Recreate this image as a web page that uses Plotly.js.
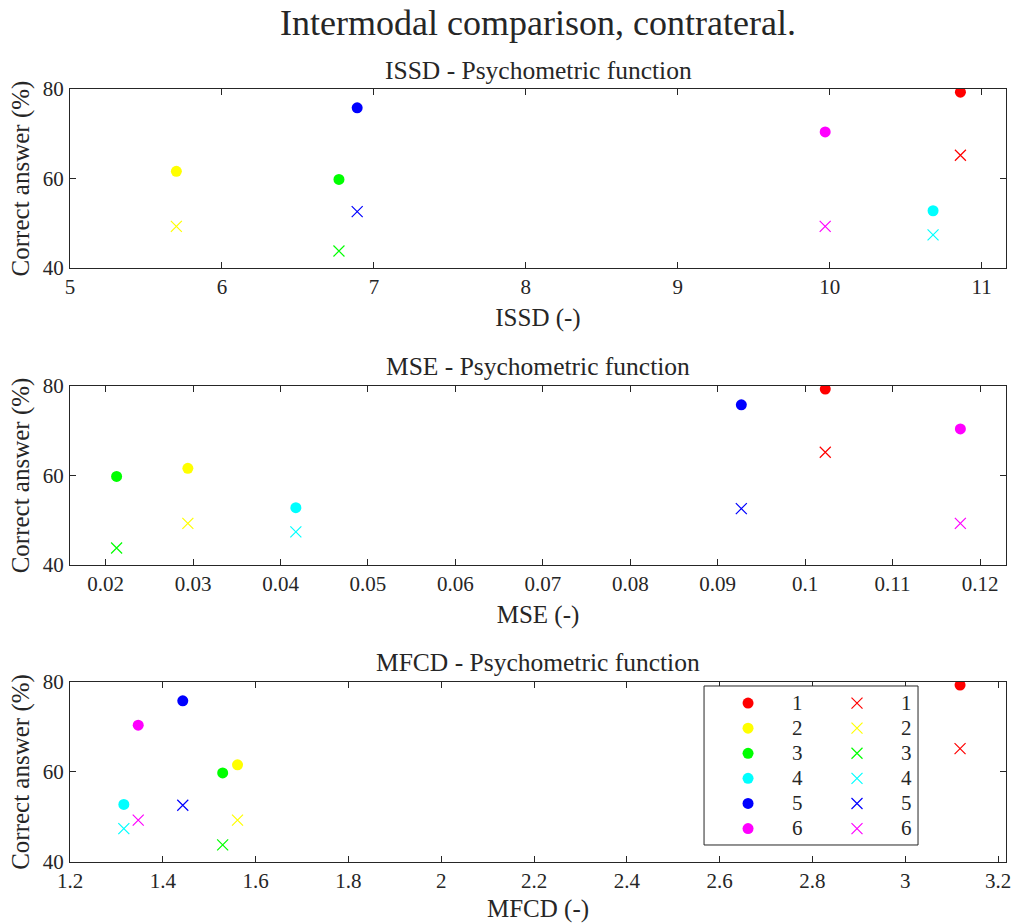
<!DOCTYPE html>
<html>
<head>
<meta charset="utf-8">
<script src="https://cdn.plot.ly/plotly-3.0.1.min.js"></script>
<style>html,body{margin:0;padding:0;background:#fff;}#chart{width:1016px;height:923px;}</style>
</head>
<body>
<div id="chart"></div>
<script>
// ---- data ----
const subjects = ['1', '2', '3', '4', '5', '6'];
const subjectColors = ['#ff0000', '#ffff00', '#00ff00', '#00ffff', '#0000ff', '#ff00ff'];
const correctDots = [79.3, 61.6, 59.8, 52.8, 75.8, 70.4];     // filled circles
const correctCrosses = [65.2, 49.3, 43.8, 47.4, 52.6, 49.3];  // crosses
const issdValues = [10.86, 5.70, 6.77, 10.68, 6.89, 9.97];
const mseValues = [0.1023, 0.0294, 0.02125, 0.04175, 0.0927, 0.11775];
const mfcdValues = [3.118, 1.561, 1.529, 1.316, 1.443, 1.347];
const panelNames = ['ISSD', 'MSE', 'MFCD'];
const panelValues = [issdValues, mseValues, mfcdValues];

const FONT = 'Liberation Serif, Times New Roman, serif';
const INK = '#262626';
const legendLabel = s => '<span style="font-size:21px">' + s + '</span>';

const traces = [];
panelValues.forEach((vals, p) => {
  const ax = p === 0 ? '' : String(p + 1);
  const last = p === panelValues.length - 1;
  subjects.forEach((s, i) => {
    traces.push({
      type: 'scatter', mode: 'markers', x: [vals[i]], y: [correctDots[i]],
      xaxis: 'x' + ax, yaxis: 'y' + ax, name: legendLabel(s),
      marker: {symbol: 'circle', size: 11, color: subjectColors[i], line: {width: 0}},
      showlegend: last, legend: 'legend', hoverinfo: 'x+y'
    });
  });
  subjects.forEach((s, i) => {
    traces.push({
      type: 'scatter', mode: 'markers', x: [vals[i]], y: [correctCrosses[i]],
      xaxis: 'x' + ax, yaxis: 'y' + ax, name: legendLabel(s),
      marker: {symbol: 'x-thin-open', size: 11, color: subjectColors[i], line: {width: 1.2, color: subjectColors[i]}},
      showlegend: last, legend: 'legend2', hoverinfo: 'x+y'
    });
  });
});

const xAxisBase = {
  showline: true, linecolor: INK, linewidth: 1, mirror: 'ticks',
  ticks: 'inside', ticklen: 6, tickcolor: INK, tickwidth: 1,
  showgrid: false, zeroline: false,
  tickfont: {family: FONT, size: 21, color: INK}
};
const yAxisBase = Object.assign({}, xAxisBase, {range: [40, 80], tickvals: [40, 60, 80], ticklabelstandoff: 1});

const domains = [[0.7684, 1], [0.3842, 0.6158], [0, 0.2329]];
const xRanges = [[5, 11.16], [0.01592, 0.12297], [1.2, 3.217]];
const xDticks = [1, 0.01, 0.2];

const legendCommon = {xanchor: 'left', yanchor: 'top', bgcolor: 'rgba(0,0,0,0)', borderwidth: 0,
  font: {family: FONT, size: 17, color: INK}, itemwidth: 78, traceorder: 'normal'};

const layout = {
  width: 1016, height: 923,
  margin: {l: 70, r: 10, t: 89, b: 61},
  paper_bgcolor: '#fff', plot_bgcolor: '#fff',
  showlegend: true,
  font: {family: FONT, color: INK},
  title: {text: 'Intermodal comparison, contrateral.', font: {family: FONT, size: 36, color: INK},
          x: 0.5, xref: 'paper', y: 1 - 22 / 923, yanchor: 'middle'},
  annotations: [],
  shapes: [{type: 'rect', xref: 'paper', yref: 'paper', x0: 0.6774, x1: 0.906, y0: 0.022, y1: 0.2277,
            line: {color: INK, width: 1}, fillcolor: '#fff', layer: 'above'}],
  legend: Object.assign({x: 0.6774, y: 0.2283}, legendCommon),
  legend2: Object.assign({x: 0.7938, y: 0.2283}, legendCommon)
};

panelNames.forEach((nm, p) => {
  const ax = p === 0 ? '' : String(p + 1);
  layout['xaxis' + ax] = Object.assign({}, xAxisBase, {
    anchor: 'y' + ax, range: xRanges[p], dtick: xDticks[p], tick0: 0,
    title: {text: nm + ' (-)', font: {family: FONT, size: 25, color: INK}, standoff: 10}
  });
  layout['yaxis' + ax] = Object.assign({}, yAxisBase, {
    anchor: 'x' + ax, domain: domains[p], automargin: true,
    title: {text: 'Correct answer (%)', font: {family: FONT, size: 25, color: INK}, standoff: 6}
  });
  layout.annotations.push({
    text: nm + ' - Psychometric function', xref: 'paper', yref: 'paper', x: 0.5, y: domains[p][1],
    xanchor: 'center', yanchor: 'middle', yshift: 19, showarrow: false,
    font: {family: FONT, size: 25.5, color: INK}
  });
});

Plotly.newPlot('chart', traces, layout, {displayModeBar: false, staticPlot: true});
</script>
</body>
</html>
